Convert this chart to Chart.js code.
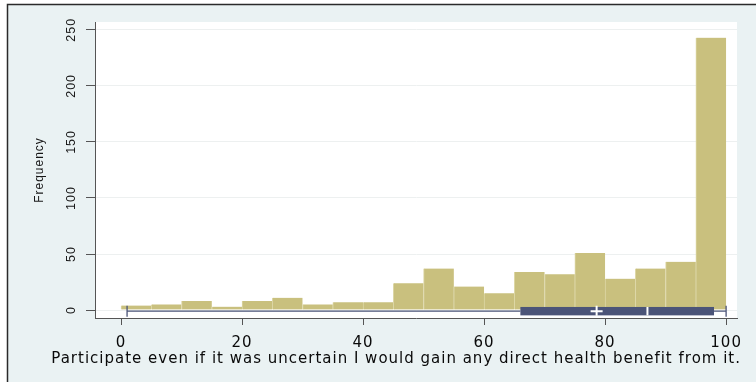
<!DOCTYPE html>
<html>
<head>
<meta charset="utf-8">
<script src="https://cdn.jsdelivr.net/npm/chart.js@4.4.1/dist/chart.umd.min.js"></script>
<style>
  html, body { margin: 0; padding: 0; background: #ffffff; }
  #wrap { width: 756px; height: 382px; position: relative; }
  canvas { display: block; }
</style>
</head>
<body>
<div id="wrap"><canvas id="c" width="756" height="382"></canvas></div>
<script>
// Histogram bins (lower edges) and their counts
const binStarts = [0, 5, 10, 15, 20, 25, 30, 35, 40, 45, 50, 55, 60, 65, 70, 75, 80, 85, 90, 95];
const binWidth = 5;
const frequencies = [4, 5, 8, 3, 8, 11, 5, 7, 7, 24, 37, 21, 15, 34, 32, 51, 28, 37, 43, 243];

// Axis ticks
const xTicks = [0, 20, 40, 60, 80, 100];
const yTicks = [0, 50, 100, 150, 200, 250];

// Box plot summary: min, lower quartile, median, upper quartile, max; plus mean
const boxFiveNumber = [1, 66, 87, 98, 100];
const boxMean = 78.6;
const boxLevel = -1; // vertical position of the box, in frequency units

const xTitle = 'Participate even if it was uncertain I would gain any direct health benefit from it.';
const yTitle = 'Frequency';

const BAR_COLOR = '#c9c07e';
const BAR_EDGE = '#ddd7a6';
const BOX_COLOR = '#4b5478';
const FRAME_BG = '#eaf2f3';
const TEXT_COLOR = '#0a0a0a';

const stataLook = {
  id: 'stataLook',
  beforeDraw(chart) {
    const { ctx, width, height, chartArea: a } = chart;
    ctx.save();
    ctx.fillStyle = '#ffffff';
    ctx.fillRect(0, 0, width, height);
    ctx.fillStyle = FRAME_BG;
    ctx.fillRect(8, 5, width - 8, height - 5);
    ctx.strokeStyle = '#2a2a2a';
    ctx.lineWidth = 1.5;
    ctx.beginPath();
    ctx.moveTo(7.5, height);
    ctx.lineTo(7.5, 4.5);
    ctx.lineTo(width, 4.5);
    ctx.stroke();
    ctx.fillStyle = '#ffffff';
    ctx.fillRect(a.left, a.top, a.right - a.left, a.bottom - a.top);
    ctx.restore();
    // wide, Verdana-like lettering for the axis text
    ctx.letterSpacing = '1px';
  },
  afterDatasetsDraw(chart) {
    const { ctx } = chart;
    const xs = chart.scales.x, ys = chart.scales.y;
    const [mn, q1, med, q3, mx] = boxFiveNumber.map(v => xs.getPixelForValue(v));
    const yc = ys.getPixelForValue(boxLevel);
    const half = 4.2;
    ctx.save();
    // whiskers
    ctx.strokeStyle = BOX_COLOR;
    ctx.lineWidth = 1.3;
    ctx.beginPath();
    ctx.moveTo(mn, yc); ctx.lineTo(q1, yc);
    ctx.moveTo(q3, yc); ctx.lineTo(mx, yc);
    ctx.moveTo(mn, yc - 5.5); ctx.lineTo(mn, yc + 5.5);
    ctx.moveTo(mx, yc - 5.5); ctx.lineTo(mx, yc + 5.5);
    ctx.stroke();
    // box
    ctx.fillStyle = BOX_COLOR;
    ctx.fillRect(q1, yc - half, q3 - q1, half * 2);
    // median
    ctx.strokeStyle = '#ffffff';
    ctx.lineWidth = 2;
    ctx.beginPath();
    ctx.moveTo(med, yc - half); ctx.lineTo(med, yc + half);
    ctx.stroke();
    // mean marker
    const m = xs.getPixelForValue(boxMean);
    ctx.lineWidth = 2;
    ctx.beginPath();
    ctx.moveTo(m - 6, yc); ctx.lineTo(m + 6, yc);
    ctx.moveTo(m, yc - 5.5); ctx.lineTo(m, yc + 4.5);
    ctx.stroke();
    ctx.restore();
  },
  afterDraw(chart) {
    // x-axis title: wider than the plot region, so it is set by hand under the axis
    const { ctx, chartArea: a } = chart;
    ctx.save();
    ctx.font = '15px "DejaVu Sans"';
    ctx.fillStyle = TEXT_COLOR;
    ctx.textAlign = 'right';
    ctx.textBaseline = 'middle';
    ctx.fillText(xTitle, a.right + 4, 359);
    ctx.restore();
    ctx.letterSpacing = '0px';
  }
};

new Chart(document.getElementById('c'), {
  type: 'bar',
  data: {
    datasets: [{
      data: binStarts.map((s, i) => ({ x: s + binWidth / 2, y: frequencies[i] })),
      backgroundColor: BAR_COLOR,
      borderColor: BAR_EDGE,
      borderWidth: { left: 1, right: 0, top: 0, bottom: 0 },
      borderSkipped: false,
      barPercentage: 1,
      categoryPercentage: 1
    }]
  },
  options: {
    responsive: false,
    animation: false,
    events: [],
    layout: { padding: { left: 0, top: 22, right: 19, bottom: 0 } },
    plugins: { legend: { display: false }, tooltip: { enabled: false } },
    scales: {
      x: {
        type: 'linear',
        min: -4.3,
        max: 101.8,
        offset: false,
        afterBuildTicks: s => { s.ticks = xTicks.map(v => ({ value: v })); },
        afterFit: s => { s.height = 64; },
        grid: { display: true, offset: false, drawOnChartArea: false, tickLength: 7, tickColor: '#555', tickWidth: 1 },
        border: { color: '#555', width: 1 },
        ticks: { font: { family: 'DejaVu Sans', size: 15 }, color: TEXT_COLOR, padding: 9, maxRotation: 0, autoSkip: false },
        title: { display: false }
      },
      y: {
        type: 'linear',
        min: -7.1,
        max: 257,
        afterBuildTicks: s => { s.ticks = yTicks.map(v => ({ value: v })); },
        afterFit: s => { s.width = 95; },
        grid: { color: '#edf0f0', lineWidth: 1, tickLength: 9, tickColor: '#555' },
        border: { color: '#555', width: 1 },
        ticks: { font: { family: 'Liberation Sans', size: 12.5 }, color: '#151515', padding: 3.6, minRotation: 90, maxRotation: 90, crossAlign: 'center' },
        title: { display: true, text: yTitle, font: { family: 'Liberation Sans', size: 12 }, color: '#151515', padding: { top: 32, bottom: 0 } }
      }
    }
  },
  plugins: [stataLook]
});
</script>
</body>
</html>
